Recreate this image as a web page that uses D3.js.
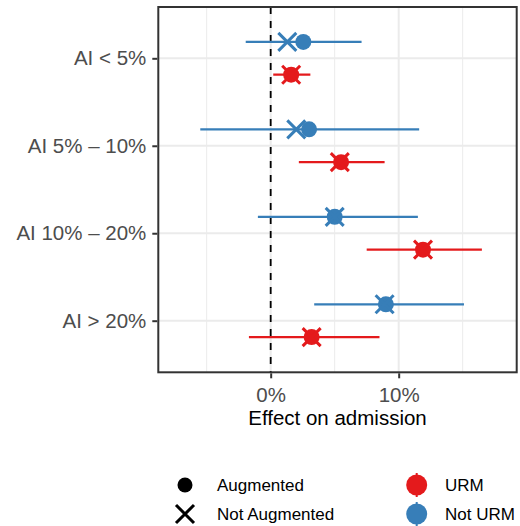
<!DOCTYPE html>
<html>
<head>
<meta charset="utf-8">
<script src="https://cdn.jsdelivr.net/npm/d3@7"></script>
<style>
  body { margin: 0; background: #fff; }
  text { font-family: "Liberation Sans", Arial, Helvetica, sans-serif; }
</style>
</head>
<body>
<div id="vis"></div>
<script>
// Categories on the y axis, top to bottom
var groups = ['AI < 5%', 'AI 5% – 10%', 'AI 10% – 20%', 'AI > 20%'];

// URM (red) estimates, in percent
var urmAug = [1.6, 5.5, 11.9, 3.2];
var urmNotAug = [1.6, 5.4, 11.9, 3.2];
var urmLow = [0.2, 2.2, 7.5, -1.7];
var urmHigh = [3.1, 8.9, 16.5, 8.5];

// Not URM (blue) estimates, in percent
var notUrmAug = [2.55, 3.0, 5.0, 9.0];
var notUrmNotAug = [1.3, 2.0, 5.0, 8.9];
var notUrmLow = [-1.95, -5.5, -1.0, 3.4];
var notUrmHigh = [7.1, 11.6, 11.5, 15.1];

var xTicks = [0, 10];
var xMinor = [-5, 5, 15];

var colors = { urm: '#E41A1C', notUrm: '#377EB8' };

var width = 520;
var height = 526;
var panel = { left: 158.3, right: 516.7, top: 7, bottom: 372.3 };

var svg = d3.select('#vis').append('svg')
  .attr('width', width)
  .attr('height', height);

var xScale = d3.scaleLinear()
  .domain([-8.78, 19.22])
  .range([panel.left, panel.right]);

var yScale = d3.scalePoint()
  .domain(groups)
  .range([58.3, 320.7]);

// blue sits above the tick, red below
var dodge = 16.4;

// Build the rows the marks are drawn from
var rows = [];
groups.forEach(function (g, i) {
  rows.push({ group: g, key: 'notUrm', off: -dodge, aug: notUrmAug[i], notAug: notUrmNotAug[i], lo: notUrmLow[i], hi: notUrmHigh[i] });
  rows.push({ group: g, key: 'urm', off: dodge, aug: urmAug[i], notAug: urmNotAug[i], lo: urmLow[i], hi: urmHigh[i] });
});

// Minor gridlines
svg.selectAll('.minor').data(xMinor).enter()
  .append('line')
  .attr('x1', function (d) { return xScale(d); })
  .attr('x2', function (d) { return xScale(d); })
  .attr('y1', panel.top).attr('y2', panel.bottom)
  .attr('stroke', '#EBEBEB').attr('stroke-width', 1);

// Major gridlines
svg.selectAll('.xmajor').data(xTicks).enter()
  .append('line')
  .attr('x1', function (d) { return xScale(d); })
  .attr('x2', function (d) { return xScale(d); })
  .attr('y1', panel.top).attr('y2', panel.bottom)
  .attr('stroke', '#EBEBEB').attr('stroke-width', 2);

svg.selectAll('.ymajor').data(groups).enter()
  .append('line')
  .attr('x1', panel.left).attr('x2', panel.right)
  .attr('y1', function (d) { return yScale(d); })
  .attr('y2', function (d) { return yScale(d); })
  .attr('stroke', '#EBEBEB').attr('stroke-width', 2);

// Zero reference line
svg.append('line')
  .attr('x1', xScale(0)).attr('x2', xScale(0))
  .attr('y1', panel.top).attr('y2', panel.bottom)
  .attr('stroke', '#000').attr('stroke-width', 1.8)
  .attr('stroke-dasharray', '7,7');

// Error bars
svg.selectAll('.bar').data(rows).enter()
  .append('line')
  .attr('x1', function (d) { return xScale(d.lo); })
  .attr('x2', function (d) { return xScale(d.hi); })
  .attr('y1', function (d) { return yScale(d.group) + d.off; })
  .attr('y2', function (d) { return yScale(d.group) + d.off; })
  .attr('stroke', function (d) { return colors[d.key]; })
  .attr('stroke-width', 2.2);

// Augmented: filled circles
svg.selectAll('.dot').data(rows).enter()
  .append('circle')
  .attr('cx', function (d) { return xScale(d.aug); })
  .attr('cy', function (d) { return yScale(d.group) + d.off; })
  .attr('r', 8)
  .attr('fill', function (d) { return colors[d.key]; });

// Not augmented: crosses
var cross = function (s) {
  return 'M' + (-s) + ',' + (-s) + 'L' + s + ',' + s + 'M' + (-s) + ',' + s + 'L' + s + ',' + (-s);
};
svg.selectAll('.cross').data(rows).enter()
  .append('path')
  .attr('transform', function (d) {
    return 'translate(' + xScale(d.notAug) + ',' + (yScale(d.group) + d.off) + ')';
  })
  .attr('d', cross(9))
  .attr('fill', 'none')
  .attr('stroke', function (d) { return colors[d.key]; })
  .attr('stroke-width', 3);

// Panel border
svg.append('rect')
  .attr('x', panel.left).attr('y', panel.top)
  .attr('width', panel.right - panel.left)
  .attr('height', panel.bottom - panel.top)
  .attr('fill', 'none')
  .attr('stroke', '#333333').attr('stroke-width', 2);

// Axes
var xAxis = svg.append('g')
  .attr('transform', 'translate(0,' + (panel.bottom + 1) + ')')
  .call(d3.axisBottom(xScale).tickValues(xTicks).tickSize(5).tickPadding(6)
    .tickFormat(function (d) { return d + '%'; }));

var yAxis = svg.append('g')
  .attr('transform', 'translate(' + (panel.left - 1) + ',0)')
  .call(d3.axisLeft(yScale).tickSize(5).tickPadding(6));

[xAxis, yAxis].forEach(function (a) {
  a.select('.domain').remove();
  a.selectAll('.tick line').attr('stroke', '#333333').attr('stroke-width', 2);
  a.selectAll('.tick text')
    .attr('fill', '#4D4D4D')
    .style('font-size', '20.5px');
});
xAxis.selectAll('.tick text').attr('dy', '0.88em');

svg.append('text')
  .attr('x', (panel.left + panel.right) / 2)
  .attr('y', 425)
  .attr('text-anchor', 'middle')
  .style('font-size', '20.5px')
  .attr('fill', '#000')
  .text('Effect on admission');

// Legend: shape
var legend = svg.append('g');
var shapeY = [485, 514];

legend.append('circle')
  .attr('cx', 185).attr('cy', shapeY[0]).attr('r', 7.5)
  .attr('fill', '#000');
legend.append('path')
  .attr('transform', 'translate(185,' + shapeY[1] + ')')
  .attr('d', cross(9))
  .attr('stroke', '#000').attr('stroke-width', 3);

legend.selectAll('.shape-label').data(['Augmented', 'Not Augmented']).enter()
  .append('text')
  .attr('x', 217)
  .attr('y', function (d, i) { return shapeY[i]; })
  .attr('dy', '0.35em')
  .style('font-size', '17px')
  .attr('fill', '#000')
  .text(function (d) { return d; });

// Legend: colour
var colorKeys = ['urm', 'notUrm'];
colorKeys.forEach(function (k, i) {
  legend.append('line')
    .attr('x1', 416.7).attr('x2', 416.7)
    .attr('y1', shapeY[i] - 12).attr('y2', shapeY[i] + 12)
    .attr('stroke', colors[k]).attr('stroke-width', 2);
  legend.append('circle')
    .attr('cx', 416.7).attr('cy', shapeY[i]).attr('r', 10.5)
    .attr('fill', colors[k]);
});

legend.selectAll('.color-label').data(['URM', 'Not URM']).enter()
  .append('text')
  .attr('x', 445)
  .attr('y', function (d, i) { return shapeY[i]; })
  .attr('dy', '0.35em')
  .style('font-size', '17px')
  .attr('fill', '#000')
  .text(function (d) { return d; });
</script>
</body>
</html>
